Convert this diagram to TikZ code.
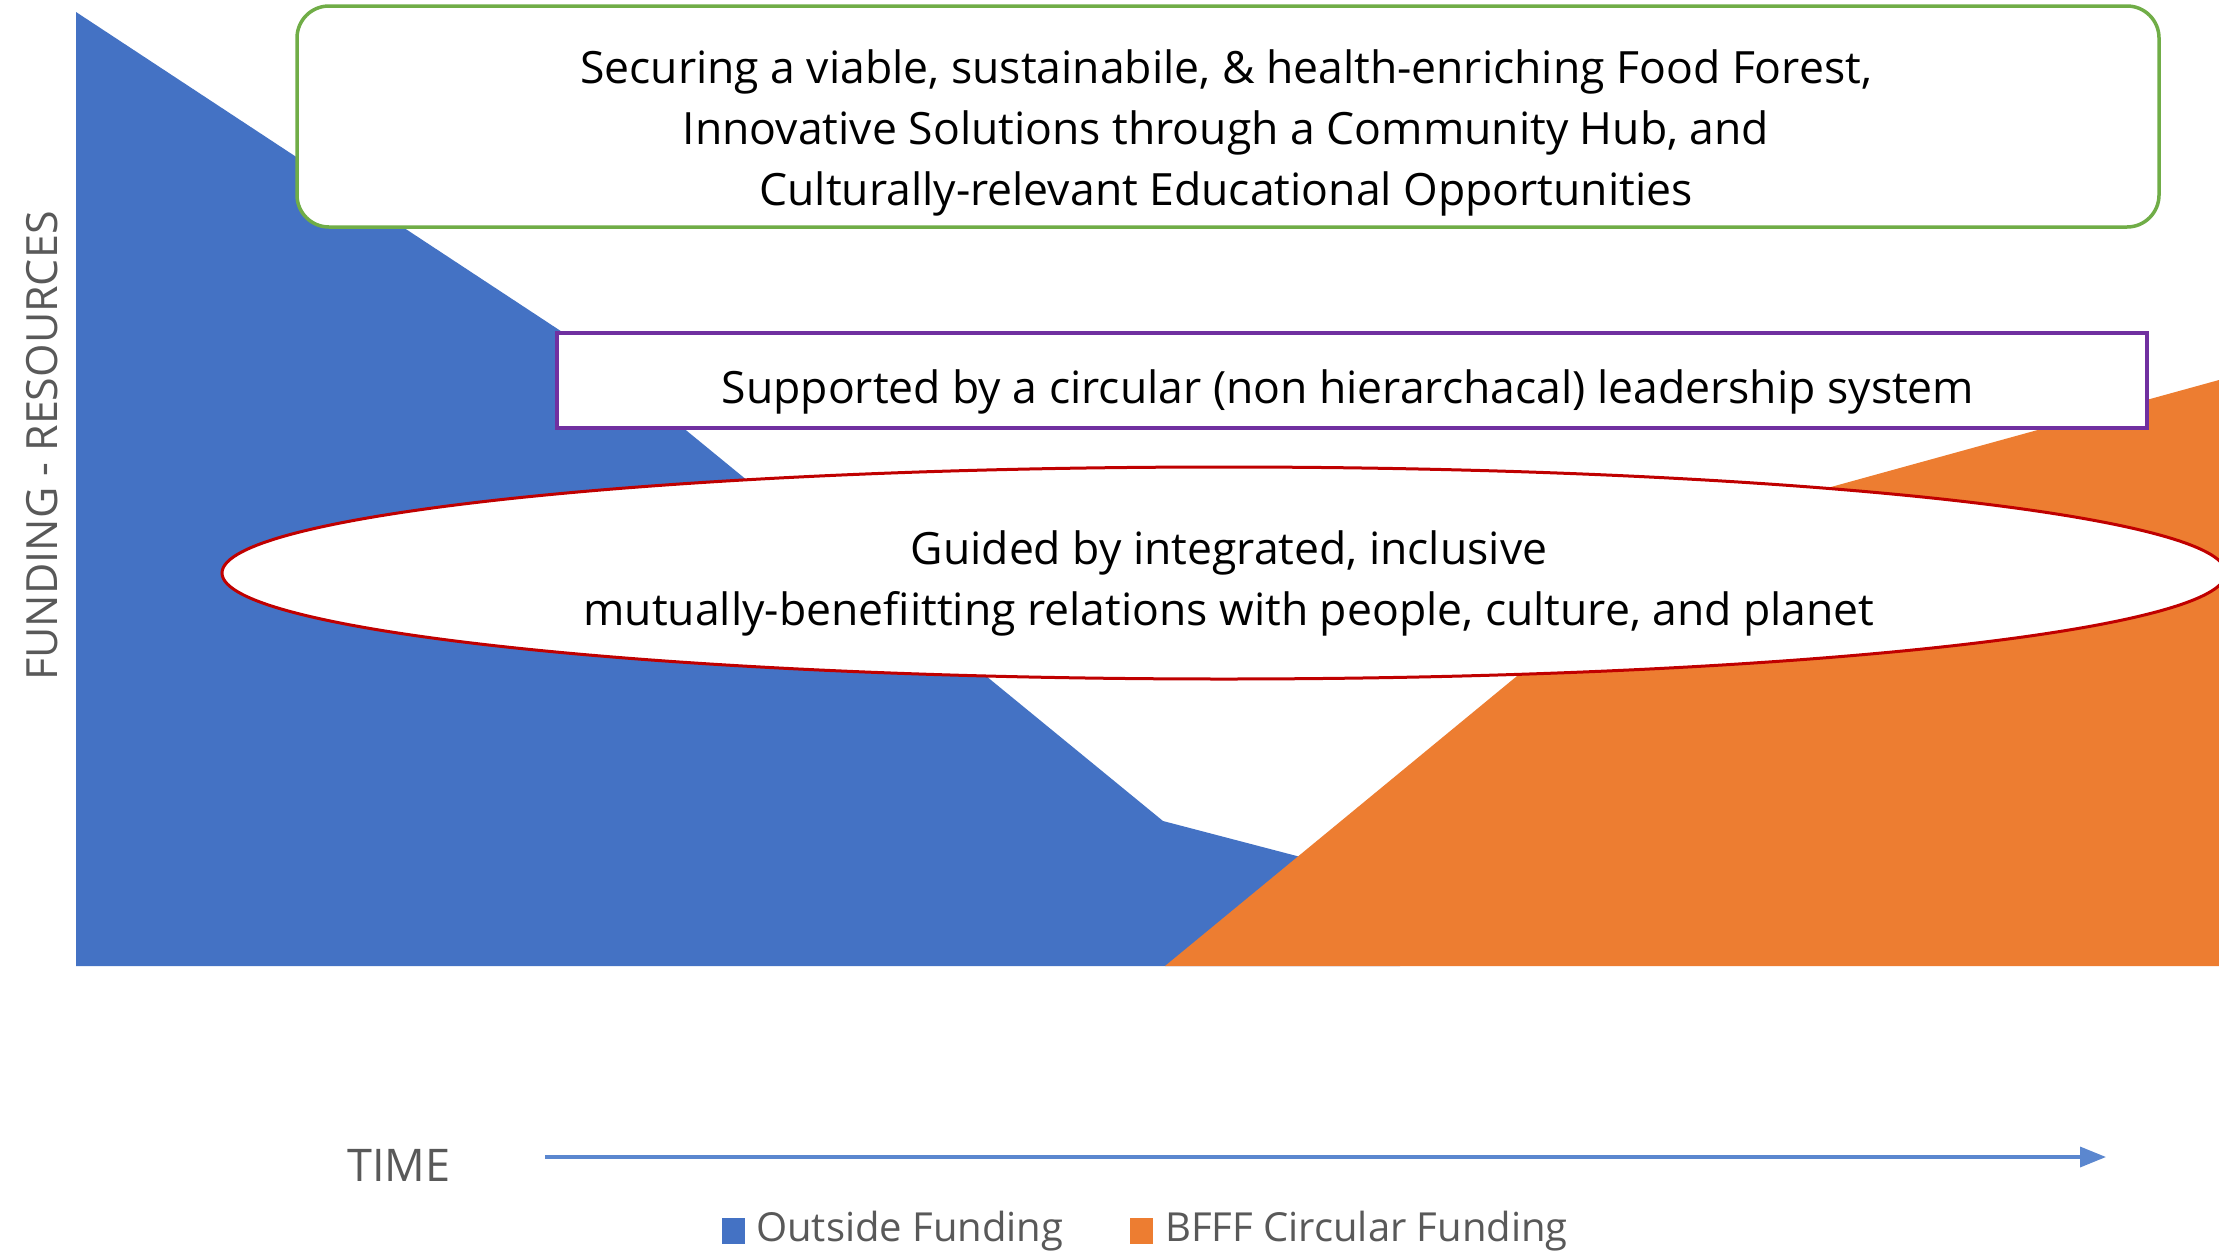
\documentclass[tikz,border=0pt]{standalone}
\usepackage{fontspec}
\setmainfont{Open Sans}
\usetikzlibrary{shapes.geometric,arrows.meta}

\definecolor{chartblue}{HTML}{4472C4}
\definecolor{chartorange}{HTML}{ED7D31}
\definecolor{boxgreen}{HTML}{70AD47}
\definecolor{boxpurple}{HTML}{7030A0}
\definecolor{ringred}{HTML}{C00000}
\definecolor{labelgray}{HTML}{595959}
\definecolor{timeblue}{HTML}{5B87CF}

\begin{document}
\begin{tikzpicture}[x=1pt,y=-1pt,
  maintext/.style={font=\fontsize{44.5}{61}\selectfont, align=center, text=black, inner sep=0pt},
  graytext/.style={font=\fontsize{40}{48}\selectfont, text=labelgray, inner sep=0pt},
  panel/.style={fill=white, inner sep=0pt},
  keybox/.style={minimum width=23pt, minimum height=26pt, inner sep=0pt}
]
\useasboundingbox (0,0) rectangle (2219,1253);
\fill[white] (0,0) rectangle (2219,1253);

% funding areas
\fill[chartblue] (76,12) -- (582,345) -- (1163,821) -- (1400,883) -- (1400,966) -- (76,966) -- cycle;
\fill[chartorange] (1165,966) -- (1704,522) -- (2219,380) -- (2219,966) -- cycle;

% frames
\node[panel, draw=boxgreen, line width=3.5pt, rounded corners=32pt,
      minimum width=1862pt, minimum height=221pt] (goalbox) at (1228,116.5) {};
\node[panel, draw=boxpurple, line width=3.5pt,
      minimum width=1590pt, minimum height=95pt] (leadbox) at (1352,380.5) {};
\node[panel, draw=ringred, line width=3pt, ellipse,
      minimum width=2004pt, minimum height=212pt] (relring) at (1224,573) {};

% frame texts
\node[maintext] (goaltext) at (1226,133) {Securing a viable, sustainabile, \& health-enriching Food Forest,\\
Innovative Solutions through a Community Hub, and\\
Culturally-relevant Educational Opportunities};
\node[maintext] (leadtext) at (1348,392) {Supported by a circular (non hierarchacal) leadership system};
\node[maintext] (reltext) at (1229,583) {Guided by integrated, inclusive\\
mutually-benefiitting relations with people, culture, and planet};

% axes
\node[graytext, font=\fontsize{43}{48}\selectfont, rotate=90] (ylabel) at (42,446) {FUNDING - RESOURCES};
\node[graytext, font=\fontsize{45}{48}\selectfont] (timelabel) at (399,1165) {TIME};
\coordinate (timestart) at (545,1157);
\coordinate (timeend) at (2106,1157);
\draw[timeblue, line width=3.5pt, -{Triangle[length=26pt,width=20pt]}] (timestart) -- (timeend);

% legend
\node[keybox, fill=chartblue] (keyblue) at (733.5,1231) {};
\node[graytext, anchor=west] (keybluetext) at (756,1231) {Outside Funding};
\node[keybox, fill=chartorange] (keyorange) at (1141.5,1231) {};
\node[graytext, anchor=west] (keyorangetext) at (1165,1231) {BFFF Circular Funding};
\end{tikzpicture}
\end{document}
